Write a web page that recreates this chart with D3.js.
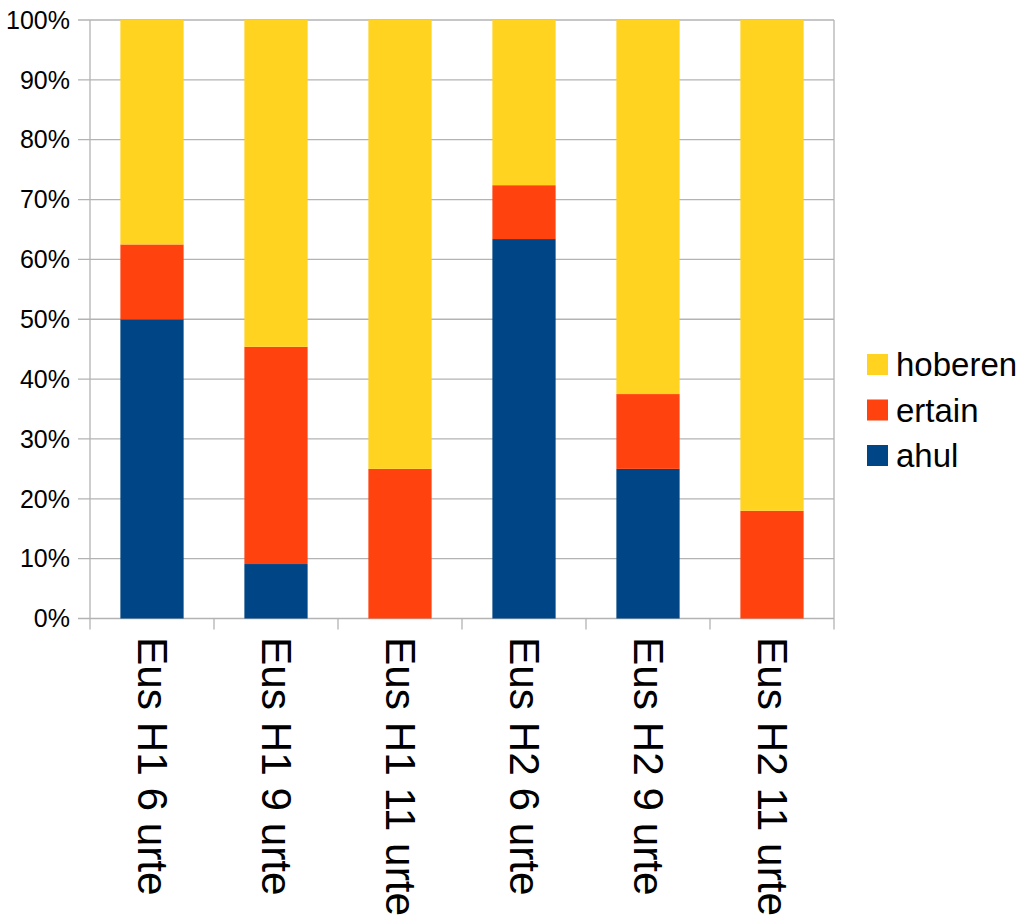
<!DOCTYPE html>
<html>
<head>
<meta charset="utf-8">
<script src="https://cdn.jsdelivr.net/npm/d3@7"></script>
<style>
  html, body { margin: 0; padding: 0; background: #ffffff; }
  svg { display: block; font-family: "Liberation Sans", Arial, sans-serif; }
</style>
</head>
<body>
<svg id="chart" width="1018" height="919"></svg>
<script>
// Stacked percentage bars per group and grade
const categories = ["Eus H1 6 urte", "Eus H1 9 urte", "Eus H1 11 urte", "Eus H2 6 urte", "Eus H2 9 urte", "Eus H2 11 urte"];
const ahul    = [50, 9.1, 0, 63.4, 25, 0];
const ertain  = [12.5, 36.3, 25, 9.0, 12.5, 18];
const hoberen = [37.5, 54.6, 75, 27.6, 62.5, 82];
const seriesNames = ["ahul", "ertain", "hoberen"];
const seriesColors = ["#004586", "#ff420e", "#ffd320"];
const yTicks = [0, 10, 20, 30, 40, 50, 60, 70, 80, 90, 100];

const rows = categories.map((c, i) => ({ cat: c, ahul: ahul[i], ertain: ertain[i], hoberen: hoberen[i] }));

const svg = d3.select("#chart");
const plotLeft = 90, plotRight = 834, plotTop = 20, plotBottom = 618.5;

const x = d3.scaleBand().domain(categories).range([plotLeft, plotRight]).paddingInner(0.49).paddingOuter(0.245);
const xOuter = d3.scaleBand().domain(categories).range([plotLeft, plotRight]);
const y = d3.scaleLinear().domain([0, 100]).range([plotBottom, plotTop]);

const grid = "#b3b3b3";

// horizontal gridlines
svg.append("g").selectAll("line").data(yTicks).join("line")
  .attr("x1", plotLeft - 12).attr("x2", plotRight)
  .attr("y1", d => y(d)).attr("y2", d => y(d))
  .attr("stroke", grid).attr("stroke-width", 1.3);

// stacked bars
const stack = d3.stack().keys(seriesNames)(rows);
svg.append("g").selectAll("g").data(stack).join("g")
  .attr("fill", (d, i) => seriesColors[i])
  .selectAll("rect").data(d => d).join("rect")
  .attr("x", d => x(d.data.cat))
  .attr("width", x.bandwidth())
  .attr("y", d => y(d[1]))
  .attr("height", d => y(d[0]) - y(d[1]));

// axis lines and category separators
svg.append("line").attr("x1", plotLeft).attr("x2", plotLeft).attr("y1", plotTop).attr("y2", plotBottom + 11)
  .attr("stroke", grid).attr("stroke-width", 1.3);
svg.append("line").attr("x1", plotRight).attr("x2", plotRight).attr("y1", plotTop).attr("y2", plotBottom + 11)
  .attr("stroke", grid).attr("stroke-width", 1.3);
svg.append("g").selectAll("line").data(categories.slice(1)).join("line")
  .attr("x1", d => xOuter(d)).attr("x2", d => xOuter(d))
  .attr("y1", plotBottom).attr("y2", plotBottom + 11)
  .attr("stroke", grid).attr("stroke-width", 1.3);

// y tick labels
svg.append("g").selectAll("text").data(yTicks).join("text")
  .attr("x", 70).attr("y", d => y(d)).attr("dy", "0.35em")
  .attr("text-anchor", "end").attr("font-size", 25).attr("fill", "#000")
  .text(d => d + "%");

// rotated category labels
svg.append("g").selectAll("text").data(categories).join("text")
  .attr("transform", d => `translate(${xOuter(d) + xOuter.bandwidth() / 2 + 0.5},637) rotate(90)`)
  .attr("dy", "0.35em")
  .attr("font-size", 42.3).attr("fill", "#000")
  .text(d => d);

// legend
const legendItems = ["hoberen", "ertain", "ahul"];
const legendColors = ["#ffd320", "#ff420e", "#004586"];
const lg = svg.append("g").selectAll("g").data(legendItems).join("g")
  .attr("transform", (d, i) => `translate(867,${354 + i * 45.5})`);
lg.append("rect").attr("width", 21).attr("height", 21).attr("fill", (d, i) => legendColors[i]);
lg.append("text").attr("x", 29).attr("y", 10.5).attr("dy", "0.35em")
  .attr("font-size", 33).attr("fill", "#000").text(d => d);
</script>
</body>
</html>
